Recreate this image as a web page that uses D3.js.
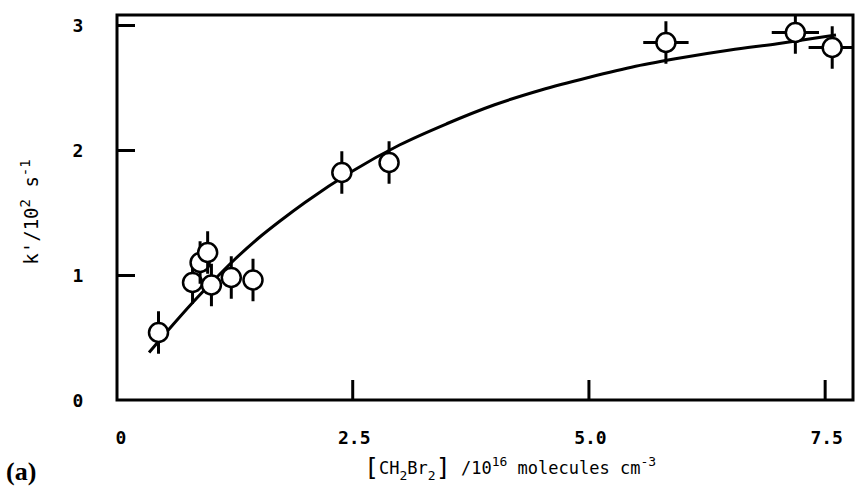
<!DOCTYPE html>
<html>
<head>
<meta charset="utf-8">
<script src="https://cdn.jsdelivr.net/npm/d3@7/dist/d3.min.js"></script>
<style>
  html, body { margin: 0; padding: 0; background: #fff; }
  svg text { fill: #000; }
</style>
</head>
<body>
<svg id="chart" width="858" height="495"></svg>
<script>
// Measured rate constants k' (10^2 s^-1) vs [CH2Br2] (10^16 molecules cm^-3)
const concentration = [0.45, 0.81, 0.89, 0.97, 1.01, 1.22, 1.45, 2.39, 2.89, 5.82, 7.19, 7.58];
const rateConstant  = [0.54, 0.94, 1.10, 1.18, 0.92, 0.98, 0.96, 1.82, 1.90, 2.86, 2.94, 2.82];
const rateError     = [0.17, 0.17, 0.17, 0.17, 0.17, 0.17, 0.17, 0.17, 0.17, 0.17, 0.17, 0.17];
const concError     = [0, 0, 0, 0, 0, 0, 0, 0, 0, 0.24, 0.25, 0.25];

// Fitted curve through the data
const fitX = [0.35, 0.6, 0.8, 1.0, 1.25, 1.5, 1.75, 2.0, 2.5, 3.0, 3.5, 4.0, 4.5, 5.0, 5.5, 6.0, 6.5, 7.0, 7.62];
const fitY = [0.38, 0.60, 0.77, 0.93, 1.12, 1.29, 1.44, 1.58, 1.83, 2.04, 2.21, 2.36, 2.48, 2.58, 2.67, 2.74, 2.80, 2.85, 2.92];

const xTicks = [2.5, 5.0, 7.5];
const xTickLabels = ["0", "2.5", "5.0", "7.5"];
const xLabelValues = [0, 2.5, 5.0, 7.5];
const yTicks = [0, 1, 2, 3];

const svg = d3.select("#chart");
const x = d3.scaleLinear().domain([0, 7.8]).range([116, 853]);
const y = d3.scaleLinear().domain([0, 3.08]).range([400, 15]);

const mono = "'DejaVu Sans Mono', 'Liberation Mono', monospace";

// Frame
svg.append("rect")
  .attr("x", x(0) + 1).attr("y", y(3.08))
  .attr("width", x(7.8) - x(0) - 1).attr("height", y(0) - y(3.08))
  .attr("fill", "none").attr("stroke", "#000").attr("stroke-width", 3);

// Inward ticks
const yAxis = d3.axisRight(y).tickValues(yTicks.filter(d => d > 0)).tickSize(18).tickFormat("");
svg.append("g").attr("transform", `translate(${x(0) + 1},0)`).call(yAxis)
  .call(g => g.select(".domain").remove())
  .call(g => g.selectAll("line").attr("stroke", "#000").attr("stroke-width", 3));

const xAxis = d3.axisTop(x).tickValues(xTicks).tickSize(20).tickFormat("");
svg.append("g").attr("transform", `translate(0,${y(0)})`).call(xAxis)
  .call(g => g.select(".domain").remove())
  .call(g => g.selectAll("line").attr("stroke", "#000").attr("stroke-width", 3));

// Tick labels
svg.append("g").selectAll("text").data(yTicks).join("text")
  .attr("x", 78).attr("y", d => y(d) + 7)
  .attr("text-anchor", "middle")
  .attr("font-family", mono).attr("font-size", 18).attr("font-weight", "bold")
  .text(d => d);

svg.append("g").selectAll("text").data(xLabelValues).join("text")
  .attr("x", (d, i) => x(d) + (i === 0 ? 5 : 2)).attr("y", 444)
  .attr("text-anchor", "middle")
  .attr("font-family", mono).attr("font-size", 18).attr("font-weight", "bold")
  .text((d, i) => xTickLabels[i]);

// Axis titles
const yl = svg.append("text")
  .attr("transform", "translate(38,212) rotate(-90)")
  .attr("text-anchor", "middle")
  .attr("font-family", mono).attr("font-size", 19);
yl.append("tspan").text("k'/10");
yl.append("tspan").attr("dy", -8).attr("font-size", 14).text("2");
yl.append("tspan").attr("dy", 8).text(" s");
yl.append("tspan").attr("dy", -8).attr("font-size", 14).text("-1");

const xl = svg.append("text")
  .attr("x", 510).attr("y", 474)
  .attr("text-anchor", "middle")
  .attr("font-family", mono).attr("font-size", 17);
xl.append("tspan").attr("font-size", 25).attr("dy", 2).text("[");
xl.append("tspan").attr("dy", -2).text("CH");
xl.append("tspan").attr("dy", 6).attr("font-size", 13).text("2");
xl.append("tspan").attr("dy", -6).text("Br");
xl.append("tspan").attr("dy", 6).attr("font-size", 13).text("2");
xl.append("tspan").attr("dy", -4).attr("font-size", 25).text("]");
xl.append("tspan").attr("dy", -2).text(" /10");
xl.append("tspan").attr("dy", -8).attr("font-size", 13).text("16");
xl.append("tspan").attr("dy", 8).text(" molecules cm");
xl.append("tspan").attr("dy", -8).attr("font-size", 13).text("-3");

svg.append("text")
  .attr("x", 6).attr("y", 480)
  .attr("font-family", "'Liberation Serif', 'DejaVu Serif', serif")
  .attr("font-size", 26).attr("font-weight", "bold")
  .text("(a)");

// Clip to plot frame
svg.append("clipPath").attr("id", "plotClip").append("rect")
  .attr("x", x(0)).attr("y", y(3.08))
  .attr("width", x(7.8) - x(0)).attr("height", y(0) - y(3.08));

const plot = svg.append("g").attr("clip-path", "url(#plotClip)");

// Fitted curve
const fit = fitX.map((d, i) => [d, fitY[i]]);
plot.append("path")
  .datum(fit)
  .attr("fill", "none").attr("stroke", "#000").attr("stroke-width", 3)
  .attr("d", d3.line().x(d => x(d[0])).y(d => y(d[1])).curve(d3.curveMonotoneX));

// Data points with error bars
const pts = concentration.map((c, i) => ({ c, k: rateConstant[i], ek: rateError[i], ec: concError[i] }));
const pg = plot.append("g").selectAll("g").data(pts).join("g");
pg.append("line")
  .attr("x1", d => x(d.c)).attr("x2", d => x(d.c))
  .attr("y1", d => y(d.k - d.ek)).attr("y2", d => y(d.k + d.ek))
  .attr("stroke", "#000").attr("stroke-width", 3);
pg.filter(d => d.ec > 0).append("line")
  .attr("x1", d => x(d.c - d.ec)).attr("x2", d => x(d.c + d.ec))
  .attr("y1", d => y(d.k)).attr("y2", d => y(d.k))
  .attr("stroke", "#000").attr("stroke-width", 3);
pg.append("circle")
  .attr("cx", d => x(d.c)).attr("cy", d => y(d.k)).attr("r", 9.5)
  .attr("fill", "#fff").attr("stroke", "#000").attr("stroke-width", 2.5);
</script>
</body>
</html>
